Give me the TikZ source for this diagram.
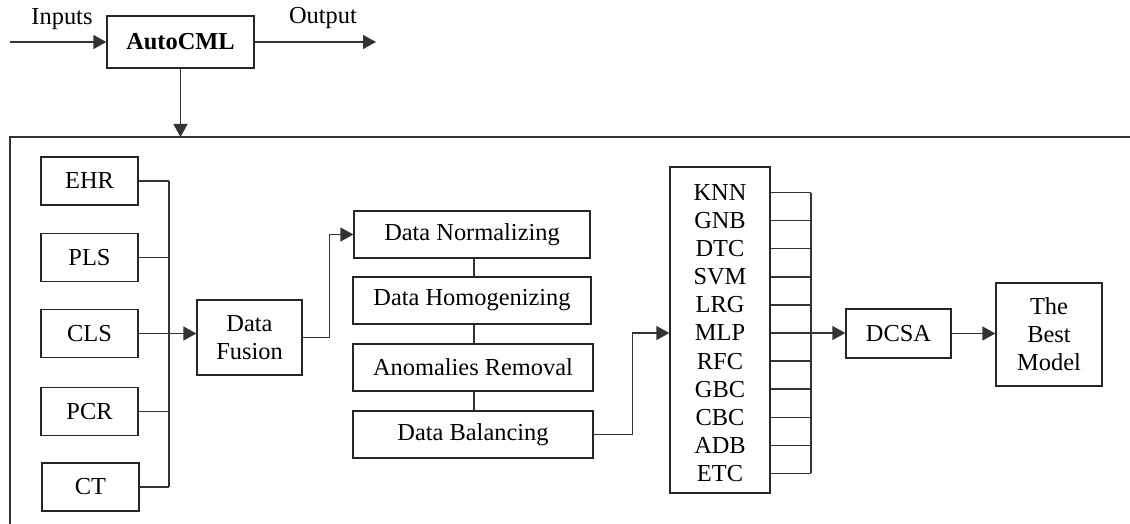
\documentclass[tikz,border=0pt]{standalone}
\usepackage{fontspec}
\setmainfont{Liberation Serif}
\usetikzlibrary{arrows.meta}
\begin{document}
\begin{tikzpicture}[x=0.5pt,y=-0.5pt,
  box/.style={draw=black!85, line width=0.65pt, inner sep=0pt, align=center, font=\fontsize{12.2}{14}\selectfont},
  lbl/.style={inner sep=0pt, font=\fontsize{12.2}{14}\selectfont},
  ln/.style={draw=black!80, line width=0.65pt},
  arr/.style={ln, -{Triangle[length=6.5pt,width=7pt]}}]
\useasboundingbox (0,0) rectangle (1130,524);
% top
\node[box, minimum width=73.5pt, minimum height=26pt, font=\fontsize{12.2}{14}\selectfont\bfseries] (auto) at (180.5,42) {AutoCML};
\node[lbl] (inputs) at (62,19) {Inputs};
\node[lbl] (output) at (323,18) {Output};
\coordinate (inL) at (10,42);
\coordinate (outR) at (376,42);
\coordinate (frametop) at (10,137);
\draw[arr] (inL) -- (auto.west);
\draw[arr] (auto.east) -- (outR);
% frame
\draw[ln] (10,524) -- (frametop) -- (1130,137);
\draw[arr] (auto.south) -- (auto.south |- frametop);
% sources
\node[box, minimum width=48.5pt, minimum height=24pt] (ehr) at (89.5,181) {EHR};
\node[box, minimum width=48.5pt, minimum height=24pt] (pls) at (89.5,257.5) {PLS};
\node[box, minimum width=48.5pt, minimum height=24pt] (cls) at (89.5,333.5) {CLS};
\node[box, minimum width=48.5pt, minimum height=24pt] (pcr) at (89.5,411.5) {PCR};
\node[box, minimum width=48.5pt, minimum height=24pt] (ct) at (90.5,487) {CT};
\coordinate (busL) at (169,0);
\foreach \s in {ehr,pls,cls,pcr,ct} \draw[ln] (\s.east) -- (\s.east -| busL);
\draw[ln] (ehr.east -| busL) -- (ct.east -| busL);
% fusion
\node[box, minimum width=52.5pt, minimum height=37.5pt] (fusion) at (249.5,337.5) {Data\\Fusion};
\draw[arr] (cls.east -| busL) -- (cls.east -| fusion.west);
% steps
\node[box, minimum width=118pt, minimum height=23.5pt] (norm) at (472,234.5) {Data Normalizing};
\node[box, minimum width=119pt, minimum height=23.5pt] (hom) at (472,300.5) {Data Homogenizing};
\node[box, minimum width=120pt, minimum height=23.5pt] (anom) at (473,367.5) {Anomalies Removal};
\node[box, minimum width=120pt, minimum height=23.5pt] (bal) at (473,434.5) {Data Balancing};
\draw[arr] (fusion.east) -- ++(27,0) |- (norm.west);
\draw[ln] (norm.south -| 474,0) -- (hom.north -| 474,0);
\draw[ln] (hom.south -| 474,0) -- (anom.north -| 474,0);
\draw[ln] (anom.south -| 474,0) -- (bal.north -| 474,0);
% classifiers
\node[box, minimum width=50pt, minimum height=163pt] (clf) at (720,330) {};
\foreach \n [count=\i] in {KNN,GNB,DTC,SVM,LRG,MLP,RFC,GBC,CBC,ADB,ETC}
  \node[lbl] (c\i) at (720,{192.7+28.06*(\i-1)}) {\n};
\draw[arr] (bal.east) -- ++(39,0) |- (clf.west |- c6);
\coordinate (busR) at (811,0);
\foreach \i in {1,...,11} \draw[ln] (clf.east |- c\i) -- (busR |- c\i);
\draw[ln] (busR |- c1) -- (busR |- c11);
\node[box, minimum width=52.5pt, minimum height=24.5pt] (dcsa) at (898.5,333.5) {DCSA};
\node[box, minimum width=53pt, minimum height=51.5pt] (best) at (1049,334.5) {The\\Best\\Model};
\draw[arr] (busR |- c6) -- (dcsa.west |- c6);
\draw[arr] (dcsa.east) -- (dcsa.east -| best.west);
\end{tikzpicture}
\end{document}
